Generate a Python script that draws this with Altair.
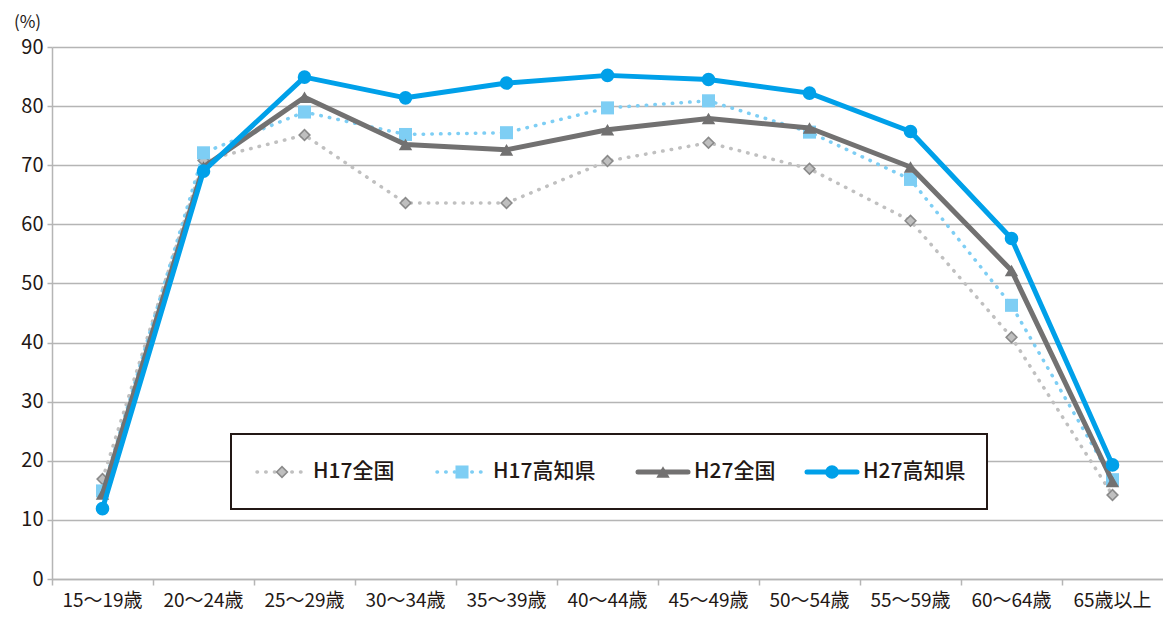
import altair as alt
import pandas as pd

# ---------------- data ----------------
ages = ["15～19歳", "20～24歳", "25～29歳", "30～34歳", "35～39歳", "40～44歳",
        "45～49歳", "50～54歳", "55～59歳", "60～64歳", "65歳以上"]
series_names = ["H17全国", "H17高知県", "H27全国", "H27高知県"]
h17_zenkoku = [16.9, 70.8, 75.1, 63.6, 63.6, 70.7, 73.8, 69.4, 60.6, 40.9, 14.2]
h17_kochi = [14.9, 72.1, 79.0, 75.2, 75.5, 79.7, 80.9, 75.6, 67.6, 46.3, 16.8]
h27_zenkoku = [14.4, 69.7, 81.5, 73.5, 72.6, 76.0, 77.9, 76.3, 69.7, 52.2, 16.5]
h27_kochi = [11.9, 69.0, 84.9, 81.4, 83.9, 85.2, 84.5, 82.2, 75.7, 57.6, 19.3]
y_ticks = [0, 10, 20, 30, 40, 50, 60, 70, 80, 90]
y_unit = "(%)"

series_values = [h17_zenkoku, h17_kochi, h27_zenkoku, h27_kochi]

# ---------------- styles ----------------
FONT = "Noto Sans CJK JP"
TXT = "#231815"
GRID = "#b5b5b5"
W, H = 1111, 532

styles = [
    dict(color="#c0c0c0", width=3.5, dash=[0.5, 8.2], shape="diamond", size=115,
         fill="#bfbfbf", stroke="#8a8a8a", sw=1.6),
    dict(color="#7ecef4", width=3.5, dash=[0.5, 8.2], shape="square", size=170,
         fill="#7ecef4", stroke=None, sw=0),
    dict(color="#727171", width=5, dash=None, shape="triangle-up", size=180,
         fill="#727171", stroke=None, sw=0),
    dict(color="#00a0e9", width=5, dash=None, shape="circle", size=185,
         fill="#00a0e9", stroke=None, sw=0),
]

x_enc = alt.X(
    "age:N", sort=ages, bandPosition=0.5,
    scale=alt.Scale(type="band", domain=ages, paddingInner=0, paddingOuter=0),
    axis=alt.Axis(title=None, labelAngle=0, bandPosition=0,
                  grid=False, ticks=True, tickSize=6, tickColor=GRID, tickWidth=1.5,
                  domainColor=GRID, domainWidth=1.5, labelFont=FONT, labelFontSize=19,
                  labelColor=TXT, labelPadding=6),
)
y_enc = alt.Y(
    "value:Q", scale=alt.Scale(domain=[0, 90], nice=False),
    axis=alt.Axis(values=y_ticks, title=y_unit, titleAngle=0, titleX=-25, titleY=-25,
                  titleAlign="center", titleBaseline="middle", titleFont=FONT,
                  titleFontSize=17, titleFontWeight="normal", titleColor=TXT,
                  grid=True, gridColor=GRID, gridWidth=1.5, domainColor=GRID,
                  domainWidth=1.5, tickColor=GRID, tickSize=5, tickWidth=1.5,
                  labelFont=FONT, labelFontSize=20, labelColor=TXT, labelPadding=4),
)

layers = []
for name, vals, st in zip(series_names, series_values, styles):
    df = pd.DataFrame({"age": ages, "value": vals, "series": name})
    line_kw = dict(color=st["color"], strokeWidth=st["width"], strokeJoin="round")
    if st["dash"]:
        line_kw.update(strokeDash=st["dash"], strokeCap="round")
    line = alt.Chart(df).mark_line(**line_kw).encode(x=x_enc, y=y_enc)
    pt_kw = dict(shape=st["shape"], size=st["size"], filled=True, fill=st["fill"],
                 opacity=1)
    if st["stroke"]:
        pt_kw.update(stroke=st["stroke"], strokeWidth=st["sw"])
    pts = alt.Chart(df).mark_point(**pt_kw).encode(x=x_enc, y=y_enc)
    layers += [line, pts]

# ---------------- manual legend ----------------
one = pd.DataFrame({"k": [0]})
box = alt.Chart(one).mark_rect(fill="white", stroke=TXT, strokeWidth=2).encode(
    x=alt.value(179), x2=alt.value(935), y=alt.value(387), y2=alt.value(462))
layers.append(box)
leg_y = 425
marker_x = [230, 410, 611, 780]
for name, st, mx in zip(series_names, styles, marker_x):
    rule_kw = dict(color=st["color"], strokeWidth=st["width"], strokeCap="round")
    if st["dash"]:
        rule_kw.update(strokeDash=st["dash"])
    layers.append(alt.Chart(one).mark_rule(**rule_kw).encode(
        x=alt.value(mx - 25), x2=alt.value(mx + 25), y=alt.value(leg_y)))
    pt_kw = dict(shape=st["shape"], size=st["size"], filled=True, fill=st["fill"],
                 opacity=1)
    if st["stroke"]:
        pt_kw.update(stroke=st["stroke"], strokeWidth=st["sw"])
    layers.append(alt.Chart(one).mark_point(**pt_kw).encode(
        x=alt.value(mx), y=alt.value(leg_y)))
    layers.append(alt.Chart(one).mark_text(
        text=name, align="left", baseline="middle", font=FONT, fontSize=21,
        fontWeight=500, color=TXT).encode(x=alt.value(mx + 31), y=alt.value(leg_y)))

chart = alt.layer(*layers).properties(
    width=W, height=H,
    autosize=alt.AutoSizeParams(type="none"),
    padding={"left": 44, "top": 39, "right": 0, "bottom": 34},
).configure_view(stroke=None)

chart.save("out.html", embed_options={"renderer": "svg", "actions": False})
